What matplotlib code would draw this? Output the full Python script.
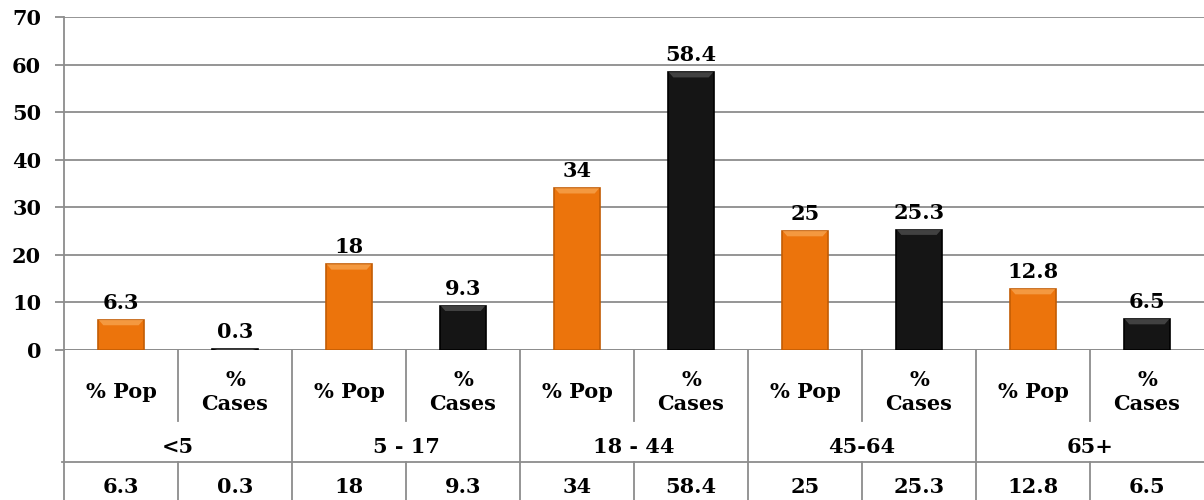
import numpy as np
import matplotlib.pyplot as plt
from matplotlib.patches import Polygon

# data
groups = ['<5', '5 - 17', '18 - 44', '45-64', '65+']
sub_labels = ['% Pop', '%\nCases']
pop_pct = [6.3, 18, 34, 25, 12.8]
cases_pct = [0.3, 9.3, 58.4, 25.3, 6.5]
value_labels = ['6.3', '0.3', '18', '9.3', '34', '58.4', '25', '25.3', '12.8', '6.5']

values = [v for pair in zip(pop_pct, cases_pct) for v in pair]
n = len(values)
x = np.arange(n)

plt.rcParams['font.family'] = ['DejaVu Serif']
plt.rcParams['font.weight'] = 'bold'
fs = 15

orange = '#EC740C'
orange_edge = '#C25C04'
orange_top = '#F6A04A'
black = '#151515'
black_edge = '#000000'
black_top = '#4a4a4a'
grid_c = '#8c8c8c'

fig = plt.figure(figsize=(12.04, 5.0), dpi=100)
ax = fig.add_axes([64 / 1204, 150 / 500, 1140 / 1204, 333 / 500])
tab = fig.add_axes([64 / 1204, 0, 1140 / 1204, 150 / 500])

bar_w = 0.41
colors = [orange if i % 2 == 0 else black for i in range(n)]
edges = [orange_edge if i % 2 == 0 else black_edge for i in range(n)]
tops = [orange_top if i % 2 == 0 else black_top for i in range(n)]
bars = ax.bar(x, values, width=bar_w, color=colors, edgecolor=edges, linewidth=1.2, zorder=3)

# bevel at the top of each bar
for b, tc in zip(bars, tops):
    x0 = b.get_x()
    x1 = x0 + b.get_width()
    top = b.get_height()
    h = min(1.1, top)
    d = 0.05
    ax.add_patch(Polygon([(x0 + 0.01, top), (x1 - 0.01, top), (x1 - d, top - h), (x0 + d, top - h)],
                         closed=True, facecolor=tc, edgecolor='none', zorder=4, alpha=0.85))

for b, lab in zip(bars, value_labels):
    ax.annotate(lab, (b.get_x() + b.get_width() / 2, b.get_height()), xytext=(0, 5),
                textcoords='offset points', ha='center', va='bottom', fontsize=fs, fontweight='bold')

ax.set_xlim(-0.5, n - 0.5)
ax.set_ylim(0, 70)
ax.set_yticks(range(0, 71, 10))
ax.set_xticks([])
ax.yaxis.grid(True, color=grid_c, linewidth=1.3, zorder=0)
ax.set_axisbelow(True)
for s in ['top', 'right', 'bottom']:
    ax.spines[s].set_visible(False)
ax.spines['left'].set_color(grid_c)
ax.spines['left'].set_linewidth(1.3)
ax.tick_params(axis='y', length=6.5, width=1.3, color=grid_c, labelsize=fs, pad=10)
for t in ax.get_yticklabels():
    t.set_fontweight('bold')
ax.axhline(0, color=grid_c, linewidth=1.3, zorder=2)

# table below the chart
tab.set_xlim(-0.5, n - 0.5)
tab.set_ylim(150, 0)
tab.axis('off')
lc = dict(color=grid_c, linewidth=1.3, clip_on=False)

tab.plot([-0.5, -0.5], [0, 150], **lc)
for k in range(len(groups)):
    tab.plot([2 * k + 0.5, 2 * k + 0.5], [0, 71], **lc)
    if k > 0:
        tab.plot([2 * k - 0.5, 2 * k - 0.5], [0, 150], **lc)
for i in range(1, n, 2):
    tab.plot([i - 0.5, i - 0.5], [112, 150], **lc)
tab.plot([-0.52, n - 0.5], [112, 112], **lc)

for i in range(n):
    tab.text(i, 42, sub_labels[i % 2], ha='center', va='center', fontsize=fs,
             fontweight='bold', linespacing=1.2)
    tab.text(i, 137, value_labels[i], ha='center', va='center', fontsize=fs, fontweight='bold')
for k, g in enumerate(groups):
    tab.text(2 * k + 0.5, 97, g, ha='center', va='center', fontsize=fs, fontweight='bold')

fig.savefig('out.png', dpi=100)
